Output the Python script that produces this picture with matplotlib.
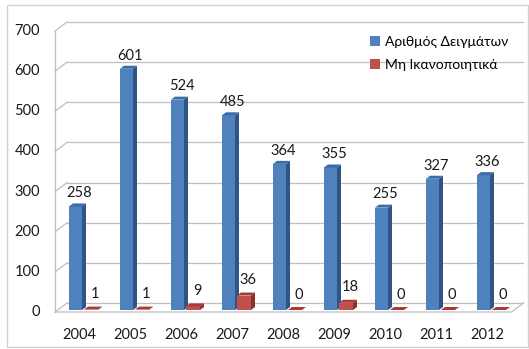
import matplotlib.pyplot as plt
from matplotlib.patches import Polygon, Rectangle

plt.rcParams['font.family'] = ['Lato', 'Noto Sans', 'DejaVu Sans']

years = ['2004', '2005', '2006', '2007', '2008', '2009', '2010', '2011', '2012']
samples = [258, 601, 524, 485, 364, 355, 255, 327, 336]
failed = [1, 1, 9, 36, 0, 18, 0, 0, 0]
yticks = [0, 100, 200, 300, 400, 500, 600, 700]

W, H = 529, 349
fig = plt.figure(figsize=(W / 100, H / 100), dpi=100)
ax = fig.add_axes([53.5 / W, (H - 310) / H, 459 / W, 281 / H])
ax.set_xlim(-0.5, 8.5)
ax.set_ylim(0, 700)
ax.axis('off')

# pixel -> data conversion for the fake 3d depth
px_x = 9 / 459
px_y = 700 / 281

def fx(p):
    return p * px_x

def fy(p):
    return p * px_y

# walls: front plane sits 2px below the axes, back plane 9px above the front
front_dy = fy(-2)
back_dx, back_dy = fx(12), fy(7)
xl, xr = -0.47, 8.48
grid_c = '#BFBFBF'
for v in yticks:
    ax.plot([xl + back_dx, xr + back_dx], [v + back_dy, v + back_dy], color=grid_c, lw=0.9, clip_on=False, zorder=1)
    ax.plot([xl, xl + back_dx], [v + front_dy, v + back_dy], color=grid_c, lw=0.9, clip_on=False, zorder=1)
    ax.text(xl - fx(15), v + front_dy, str(v), ha='right', va='center', fontsize=10.5, color='#1a1a1a')
ax.plot([xl, xl], [front_dy, 700 + front_dy], color=grid_c, lw=0.9, clip_on=False, zorder=1)
# floor
ax.plot([xl, xr, xr + back_dx], [front_dy, front_dy, back_dy], color=grid_c, lw=0.9, clip_on=False, zorder=1)

depth_x, depth_y = fx(4), fy(3)

def bar3d(x0, w, h, front, side, top):
    ax.add_patch(Rectangle((x0, 0), w, h, facecolor=front, edgecolor='none', zorder=3, clip_on=False))
    ax.add_patch(Polygon([(x0 + w, 0), (x0 + w + depth_x, depth_y), (x0 + w + depth_x, h + depth_y), (x0 + w, h)],
                         closed=True, facecolor=side, edgecolor='none', zorder=3, clip_on=False))
    ax.add_patch(Polygon([(x0, h), (x0 + depth_x, h + depth_y), (x0 + w + depth_x, h + depth_y), (x0 + w, h)],
                         closed=True, facecolor=top, edgecolor='none', zorder=3, clip_on=False))

blue_w, red_w = fx(13), fx(14)
for i, (s, f) in enumerate(zip(samples, failed)):
    bx = i - fx(10)
    bar3d(bx, blue_w, s, '#4F81BD', '#2E5585', '#3A6CA8')
    ax.annotate(str(s), (bx + blue_w / 2 + fx(4), s), xytext=(0, 9.5), textcoords='offset points',
                ha='center', va='center', fontsize=10.5, color='#1a1a1a')
    rx = i + fx(5)
    bar3d(rx, red_w, f, '#C0504D', '#8C2F2D', '#A83A37')
    ax.annotate(str(f), (rx + red_w / 2 + fx(4), f), xytext=(0, 11), textcoords='offset points',
                ha='center', va='center', fontsize=10.5, color='#1a1a1a')

for i, yr in enumerate(years):
    ax.text(i, fy(-25), yr, ha='center', va='center', fontsize=10.5, color='#1a1a1a')

# legend
h1 = Rectangle((0, 0), 1, 1, facecolor='#4F81BD')
h2 = Rectangle((0, 0), 1, 1, facecolor='#C0504D')
fig.legend([h1, h2], ['Αριθμός Δειγμάτων', 'Μη Ικανοποιητικά'], loc='upper left',
           bbox_to_anchor=(370 / W, 1 - 36 / H), frameon=False, fontsize=10,
           handlelength=0.7, handleheight=0.7, handletextpad=0.4, labelspacing=0.75,
           borderpad=0, borderaxespad=0)

# outer chart border
fig.patches.append(Rectangle((7 / W, 2 / H), 520.5 / W, 342 / H, transform=fig.transFigure,
                             facecolor='none', edgecolor='#D0D0D0', lw=1))

fig.savefig('out.png', dpi=100)
